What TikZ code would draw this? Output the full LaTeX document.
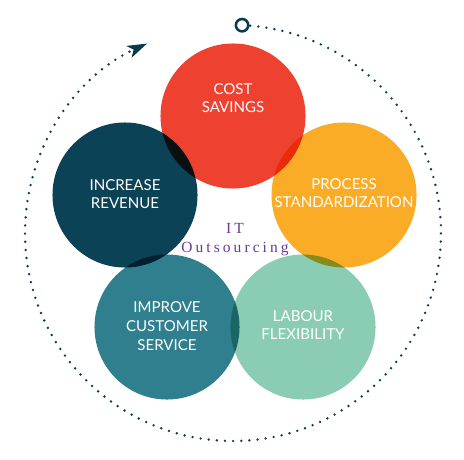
\documentclass[tikz,border=0pt]{standalone}
\usepackage{fontspec}
\setmainfont{Lato}
\newfontfamily\itserif{Liberation Serif}[LetterSpace=20]
\usepackage{tikz}
\usetikzlibrary{calc}
\usetikzlibrary{arrows.meta}
\usetikzlibrary{positioning}
\definecolor{costred}{RGB}{238,65,48}
\definecolor{procorange}{RGB}{250,172,38}
\definecolor{revnavy}{RGB}{11,66,86}
\definecolor{servteal}{RGB}{47,127,143}
\definecolor{flexgreen}{RGB}{139,205,180}
\definecolor{ringnavy}{RGB}{10,58,78}
\definecolor{itpurple}{RGB}{104,58,150}
\tikzset{
    bubble/.style={
        circle,
        minimum size=3.625cm,
        inner sep=0pt,
        draw=none
    },
    % white capitals inside the circles
    bubbletext/.style={
        text=white,
        align=center,
        inner sep=0pt,
        font=\fontsize{10.7}{13.3}\selectfont
    },
    ring/.style={
        ringnavy,
        line width=1.9pt,
        line cap=round,
        dash pattern=on 0pt off 5.8pt
    }
}

\begin{document}
\begin{tikzpicture}[x=0.025cm, y=-0.025cm]
	\useasboundingbox (0,0) rectangle (464,459);
	\coordinate (hub) at (233,233);
	\coordinate (ringstart) at ($(hub)+(-87.5:208)$);

	\draw[ring, -{Stealth[length=14pt, width=9pt, inset=3.5pt]}] (ringstart) arc[start angle=-87.5, end angle=245.6, radius=208];
	\node[circle, draw=ringnavy, line width=1.8pt, fill=white, minimum size=0.31cm, inner sep=0pt] (start) at (ringstart) {};

	\begin{scope}[blend group=multiply]
		\node[bubble, fill=costred] (cost) at (233,116) {};
		\node[bubble, fill=procorange] (process) at (344,195) {};
		\node[bubble, fill=flexgreen] (labour) at (303,327) {};
		\node[bubble, fill=servteal] (service) at (167,327) {};
		\node[bubble, fill=revnavy] (revenue) at (125,195) {};
	\end{scope}

	\node[bubbletext] (costtext) at ($(cost)+(0,-18)$) {COST\\SAVINGS};
	\node[bubbletext] (processtext) at ($(process)+(0,-2)$) {PROCESS\\STANDARDIZATION};
	\node[bubbletext] (labourtext) at ($(labour)+(0,-2)$) {LABOUR\\FLEXIBILITY};
	\node[bubbletext] (servicetext) at ($(service)+(0,-1)$) {IMPROVE\\CUSTOMER\\SERVICE};
	\node[bubbletext] (revenuetext) at ($(revenue)+(0,-1)$) {INCREASE\\REVENUE};

	\node[text=itpurple, align=center, font=\itserif\fontsize{11}{13.5}\selectfont] (itout) at (235,240) {IT\\Outsourcing};
\end{tikzpicture}
\end{document}
